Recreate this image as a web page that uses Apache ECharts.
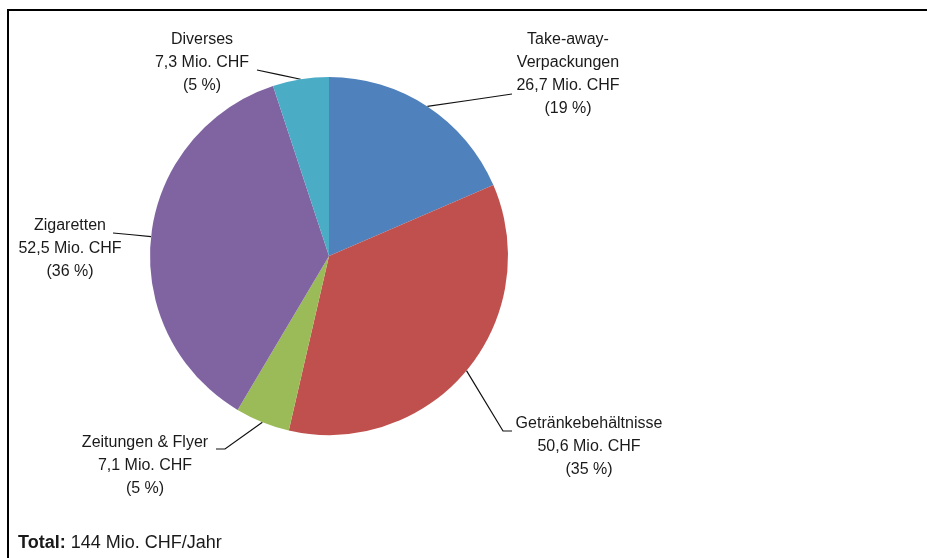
<!DOCTYPE html>
<html>
<head>
<meta charset="utf-8">
<script src="https://cdn.jsdelivr.net/npm/echarts@6/dist/echarts.min.js"></script>
<style>
html,body{margin:0;padding:0;background:#fff;}
#chart{width:927px;height:558px;}
</style>
</head>
<body>
<div id="chart"></div>
<script>
// ---- data ----
const categories = ['Take-away-\nVerpackungen', 'Getränkebehältnisse', 'Zeitungen & Flyer', 'Zigaretten', 'Diverses'];
const values = [26.7, 50.6, 7.1, 52.5, 7.3];
const colors = ['#4F81BD', '#C0504D', '#9BBB59', '#8064A2', '#4BACC6'];
const unit = 'Mio. CHF';
const totalLabel = 'Mio. CHF/Jahr';

// ---- label layout (positions only, not data) ----
const labelPos = [
  { x: 568, y: 74,  dx: -56, dy: 20,  stub: 0 },
  { x: 589, y: 447, dx: -77, dy: -16, stub: 9 },
  { x: 145, y: 466, dx: 71,  dy: -17, stub: 9 },
  { x: 70,  y: 249, dx: 43,  dy: -16, stub: 0 },
  { x: 202, y: 63,  dx: 55,  dy: 7,   stub: 0 }
];

const FONT = "'Liberation Sans', Arial, sans-serif";
const total = values.reduce((a, b) => a + b, 0);
const fmt = v => v.toFixed(1).replace('.', ',');

const chart = echarts.init(document.getElementById('chart'), null, { renderer: 'canvas' });
chart.setOption({
  animation: false,
  backgroundColor: '#fff',
  color: colors,
  graphic: [{
    type: 'rect',
    shape: { x: 8, y: 10, width: 940, height: 580 },
    style: { fill: 'none', stroke: '#000', lineWidth: 2 },
    silent: true
  }],
  title: {
    left: 13, top: 529,
    text: '{b|Total:} {n|' + Math.round(total) + ' ' + totalLabel + '}',
    textStyle: {
      fontWeight: 'normal',
      rich: {
        b: { fontFamily: FONT, fontSize: 18, fontWeight: 'bold', color: '#1a1a1a' },
        n: { fontFamily: FONT, fontSize: 18, fontWeight: 'normal', color: '#1a1a1a' }
      }
    }
  },
  series: [{
    type: 'pie',
    center: [329, 256],
    radius: [0, 179],
    startAngle: 90,
    clockwise: true,
    percentPrecision: 0,
    data: categories.map((c, i) => ({ name: c, value: values[i] })),
    itemStyle: { borderWidth: 0 },
    label: {
      show: true,
      position: 'outside',
      overflow: 'none',
      edgeDistance: 0,
      fontFamily: FONT,
      fontSize: 16,
      lineHeight: 23,
      color: '#1a1a1a',
      align: 'center',
      formatter: p => p.name + '\n' + fmt(p.value) + ' ' + unit + '\n(' + p.percent + ' %)'
    },
    labelLine: {
      show: true,
      lineStyle: { color: '#111', width: 1.2 }
    },
    labelLayout: function (p) {
      const L = labelPos[p.dataIndex];
      const ex = L.x + L.dx, ey = L.y + L.dy;
      let s;
      if (p.labelLinePoints && p.labelLinePoints[0]) {
        s = p.labelLinePoints[0];
      } else {
        s = [ex, ey];
      }
      const pts = [s];
      if (L.stub) {
        const sign = s[0] > ex ? 1 : -1;
        pts.push([ex + sign * L.stub, ey]);
      } else {
        pts.push([(s[0] + ex) / 2, (s[1] + ey) / 2]);
      }
      pts.push([ex, ey]);
      return {
        x: L.x, y: L.y,
        align: 'center', verticalAlign: 'middle',
        labelLinePoints: pts
      };
    }
  }]
});
</script>
</body>
</html>
